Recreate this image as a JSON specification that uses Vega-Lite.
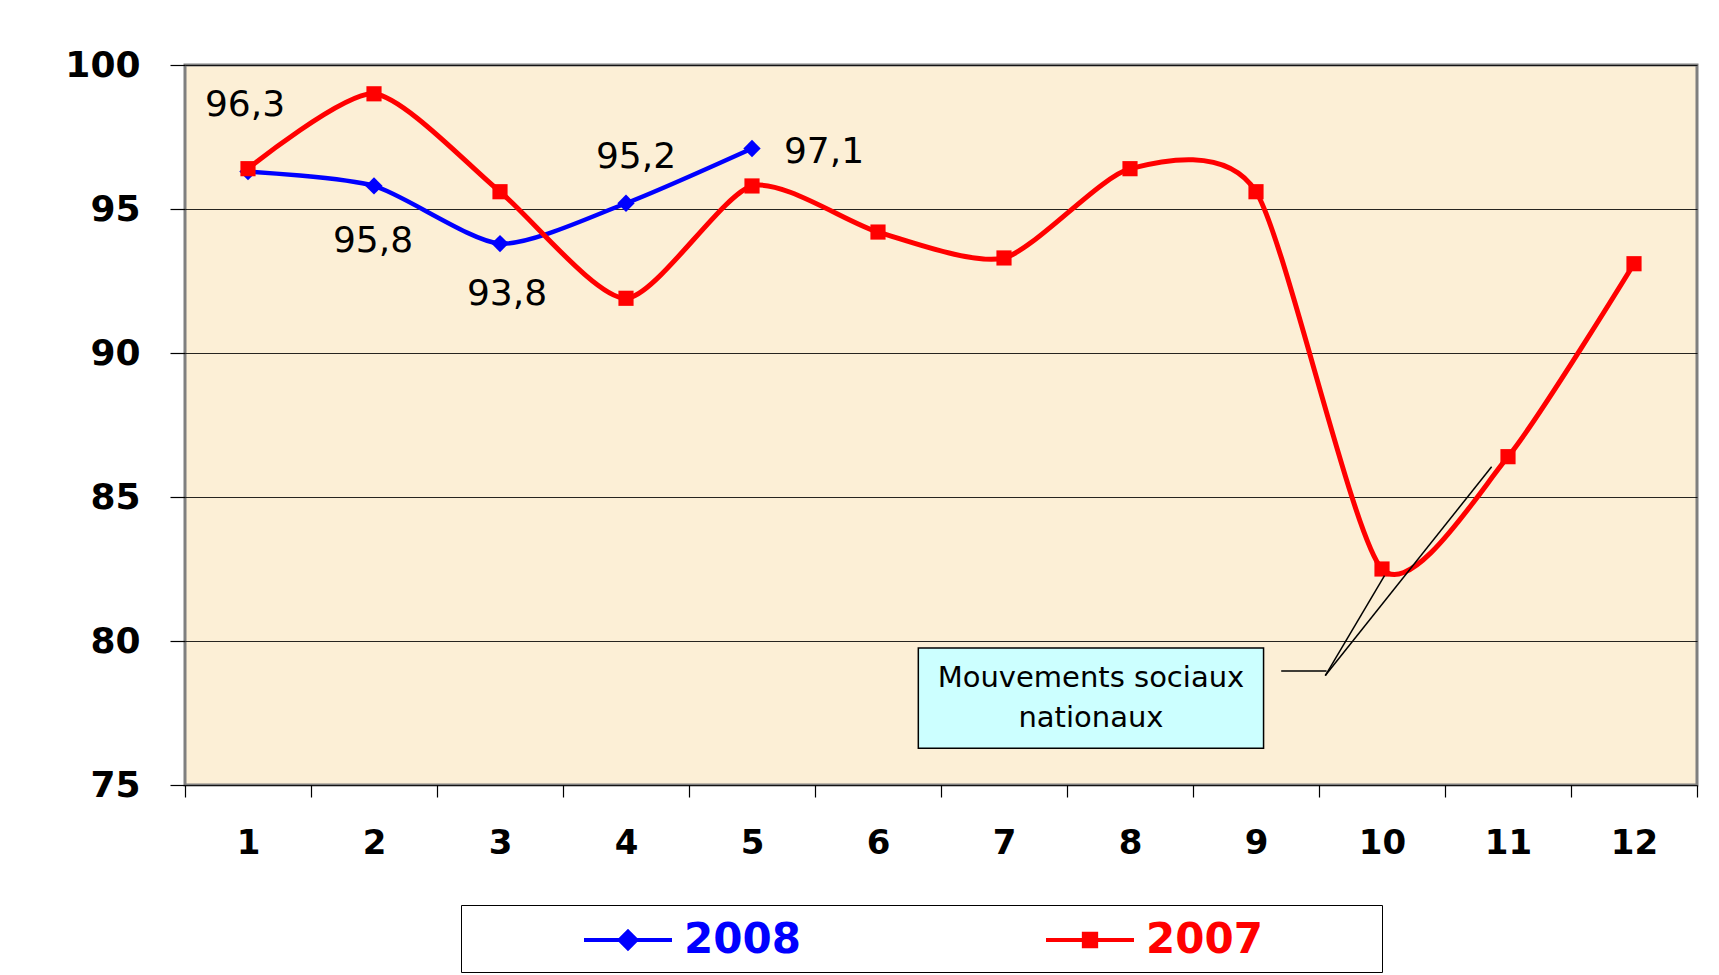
{
  "$schema": "https://vega.github.io/schema/vega-lite/v6.json",
  "width": 1512,
  "height": 720,
  "autosize": {"type": "none"},
  "padding": {"left": 185, "top": 65, "right": 22, "bottom": 190},
  "background": "white",
  "config": {
    "locale": {"number": {"decimal": ",", "thousands": ".", "grouping": [3], "currency": ["", " €"]}},
    "view": {"fill": "#FCEFD6", "stroke": "#7F7F7F", "strokeWidth": 3},
    "font": "DejaVu Sans"
  },
  "datasets": {
    "vals": [
      {"month": 1, "series": "2008", "value": 96.3},
      {"month": 2, "series": "2008", "value": 95.8},
      {"month": 3, "series": "2008", "value": 93.8},
      {"month": 4, "series": "2008", "value": 95.2},
      {"month": 5, "series": "2008", "value": 97.1},
      {"month": 1, "series": "2007", "value": 96.4},
      {"month": 2, "series": "2007", "value": 99.0},
      {"month": 3, "series": "2007", "value": 95.6},
      {"month": 4, "series": "2007", "value": 91.9},
      {"month": 5, "series": "2007", "value": 95.8},
      {"month": 6, "series": "2007", "value": 94.2},
      {"month": 7, "series": "2007", "value": 93.3},
      {"month": 8, "series": "2007", "value": 96.4},
      {"month": 9, "series": "2007", "value": 95.6},
      {"month": 10, "series": "2007", "value": 82.5},
      {"month": 11, "series": "2007", "value": 86.4},
      {"month": 12, "series": "2007", "value": 93.1}
    ]
  },
  "data": {"name": "vals"},
  "layer": [
    {
      "transform": [{"filter": "datum.series === '2008'"}],
      "mark": {"type": "line", "interpolate": "cardinal", "tension": 0.3, "strokeWidth": 4.5},
      "encoding": {
        "x": {
          "field": "month", "type": "quantitative",
          "scale": {"domain": [0.5, 12.5], "nice": false, "zero": false},
          "axis": {
            "title": null,
            "values": [0.5, 1.5, 2.5, 3.5, 4.5, 5.5, 6.5, 7.5, 8.5, 9.5, 10.5, 11.5, 12.5],
            "labelExpr": "datum.value < 12 ? format(datum.value + 0.5, 'd') : ''",
            "labelOffset": 63,
            "tickSize": 12, "tickColor": "black", "tickWidth": 1.2,
            "domain": false, "grid": false,
            "labelFont": "DejaVu Sans", "labelFontWeight": "bold", "labelFontSize": 34, "labelColor": "black",
            "labelPadding": 29, "labelFlush": false, "labelOverlap": false, "labelBound": false
          }
        },
        "y": {
          "field": "value", "type": "quantitative",
          "scale": {"domain": [75, 100], "nice": false, "zero": false},
          "axis": {
            "title": null,
            "values": [75, 80, 85, 90, 95, 100],
            "tickSize": 15, "tickColor": "black", "tickWidth": 1.2,
            "domain": false, "grid": true, "gridColor": "black", "gridWidth": 1, "gridOpacity": 0.85,
            "labelFont": "DejaVu Sans", "labelFontWeight": "bold", "labelFontSize": 36, "labelColor": "black",
            "labelPadding": 30, "labelFlush": false, "labelOverlap": false
          }
        },
        "color": {
          "field": "series", "type": "nominal",
          "scale": {"domain": ["2008", "2007"], "range": ["#0000FF", "#FF0000"]},
          "legend": {
            "orient": "none", "legendX": 276, "legendY": 840,
            "direction": "horizontal", "title": "\u00a0",
            "titleOrient": "right", "titlePadding": 108, "titleFontSize": 11, "titleColor": "white",
            "padding": 11, "symbolOffset": 132,
            "symbolSize": 1936, "symbolStrokeWidth": 4,
            "symbolType": "M-2,0L2,0M0,-0.38L0.38,0L0,0.38L-0.38,0Z",
            "labelOffset": 32, "columnPadding": 133,
            "labelFont": "DejaVu Sans", "labelFontWeight": "bold", "labelFontSize": 42, "labelLimit": 400,
            "strokeColor": "black", "fillColor": "white",
            "encode": {
              "symbols": {"update": {
                "shape": {"signal": "datum.value === '2008' ? 'M-2,0L2,0M0,-0.38L0.38,0L0,0.38L-0.38,0Z' : 'M-2,0L2,0M-0.28,-0.28L0.28,-0.28L0.28,0.28L-0.28,0.28Z'"},
                "fill": {"signal": "datum.value === '2008' ? '#0000FF' : '#FF0000'"},
                "stroke": {"signal": "datum.value === '2008' ? '#0000FF' : '#FF0000'"},
                "strokeWidth": {"value": 4},
                "opacity": {"value": 1}
              }},
              "labels": {"update": {
                "fill": {"signal": "datum.value === '2008' ? '#0000FF' : '#FF0000'"}
              }}
            }
          }
        }
      }
    },
    {
      "transform": [{"filter": "datum.series === '2008'"}],
      "mark": {"type": "point", "filled": true, "shape": "diamond", "size": 300, "opacity": 1},
      "encoding": {
        "x": {"field": "month", "type": "quantitative"},
        "y": {"field": "value", "type": "quantitative"},
        "color": {"field": "series", "type": "nominal"}
      }
    },
    {
      "transform": [{"filter": "datum.series === '2007'"}],
      "mark": {"type": "line", "interpolate": "cardinal", "tension": 0.3, "strokeWidth": 5},
      "encoding": {
        "x": {"field": "month", "type": "quantitative"},
        "y": {"field": "value", "type": "quantitative"},
        "color": {"field": "series", "type": "nominal"}
      }
    },
    {
      "transform": [{"filter": "datum.series === '2007'"}],
      "mark": {"type": "point", "filled": true, "shape": "square", "size": 230, "opacity": 1},
      "encoding": {
        "x": {"field": "month", "type": "quantitative"},
        "y": {"field": "value", "type": "quantitative"},
        "color": {"field": "series", "type": "nominal"}
      }
    },
    {
      "transform": [{"filter": "datum.series === '2008' && datum.month === 1"}],
      "mark": {"type": "text", "fontSize": 36, "font": "DejaVu Sans", "color": "black", "dx": -3, "dy": -67, "align": "center", "baseline": "middle"},
      "encoding": {"x": {"field": "month", "type": "quantitative"}, "y": {"field": "value", "type": "quantitative"}, "text": {"field": "value", "type": "quantitative", "format": ".1f"}}
    },
    {
      "transform": [{"filter": "datum.series === '2008' && datum.month === 2"}],
      "mark": {"type": "text", "fontSize": 36, "font": "DejaVu Sans", "color": "black", "dx": -1, "dy": 55, "align": "center", "baseline": "middle"},
      "encoding": {"x": {"field": "month", "type": "quantitative"}, "y": {"field": "value", "type": "quantitative"}, "text": {"field": "value", "type": "quantitative", "format": ".1f"}}
    },
    {
      "transform": [{"filter": "datum.series === '2008' && datum.month === 3"}],
      "mark": {"type": "text", "fontSize": 36, "font": "DejaVu Sans", "color": "black", "dx": 7, "dy": 50, "align": "center", "baseline": "middle"},
      "encoding": {"x": {"field": "month", "type": "quantitative"}, "y": {"field": "value", "type": "quantitative"}, "text": {"field": "value", "type": "quantitative", "format": ".1f"}}
    },
    {
      "transform": [{"filter": "datum.series === '2008' && datum.month === 4"}],
      "mark": {"type": "text", "fontSize": 36, "font": "DejaVu Sans", "color": "black", "dx": 10, "dy": -46, "align": "center", "baseline": "middle"},
      "encoding": {"x": {"field": "month", "type": "quantitative"}, "y": {"field": "value", "type": "quantitative"}, "text": {"field": "value", "type": "quantitative", "format": ".1f"}}
    },
    {
      "transform": [{"filter": "datum.series === '2008' && datum.month === 5"}],
      "mark": {"type": "text", "fontSize": 36, "font": "DejaVu Sans", "color": "black", "dx": 72, "dy": 3, "align": "center", "baseline": "middle"},
      "encoding": {"x": {"field": "month", "type": "quantitative"}, "y": {"field": "value", "type": "quantitative"}, "text": {"field": "value", "type": "quantitative", "format": ".1f"}}
    },
    {
      "data": {"values": [{}]},
      "mark": {"type": "rect", "fill": "#CCFFFF", "stroke": "black", "strokeWidth": 1.5},
      "encoding": {
        "x": {"datum": 6.32, "type": "quantitative"},
        "x2": {"datum": 9.06},
        "y": {"datum": 79.76, "type": "quantitative"},
        "y2": {"datum": 76.28}
      }
    },
    {
      "data": {"values": [{}]},
      "mark": {"type": "text", "text": ["Mouvements sociaux", "nationaux"], "font": "DejaVu Sans", "fontSize": 29, "lineHeight": 40, "color": "black", "align": "center", "baseline": "middle"},
      "encoding": {
        "x": {"datum": 7.69, "type": "quantitative"},
        "y": {"datum": 78.72, "type": "quantitative"}
      }
    },
    {
      "data": {"values": [{}]},
      "mark": {"type": "rule", "color": "black", "strokeWidth": 1.5},
      "encoding": {
        "x": {"datum": 9.2, "type": "quantitative"},
        "x2": {"datum": 9.56},
        "y": {"datum": 78.96, "type": "quantitative"},
        "y2": {"datum": 78.96}
      }
    },
    {
      "data": {"values": [{}]},
      "mark": {"type": "rule", "color": "black", "strokeWidth": 1.5},
      "encoding": {
        "x": {"datum": 9.55, "type": "quantitative"},
        "x2": {"datum": 10.02},
        "y": {"datum": 78.8, "type": "quantitative"},
        "y2": {"datum": 82.27}
      }
    },
    {
      "data": {"values": [{}]},
      "mark": {"type": "rule", "color": "black", "strokeWidth": 1.5},
      "encoding": {
        "x": {"datum": 9.55, "type": "quantitative"},
        "x2": {"datum": 10.87},
        "y": {"datum": 78.8, "type": "quantitative"},
        "y2": {"datum": 86.05}
      }
    }
  ]
}
